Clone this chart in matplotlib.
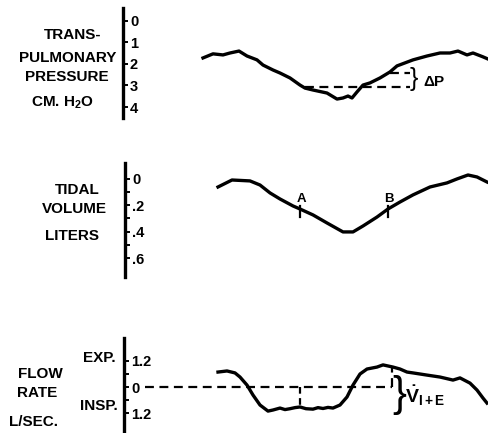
import matplotlib
matplotlib.use("Agg")
import matplotlib.pyplot as plt
import numpy as np

plt.rcParams["font.family"] = ["Liberation Sans", "DejaVu Sans"]
plt.rcParams["font.weight"] = "bold"
plt.rcParams["mathtext.fontset"] = "custom"
plt.rcParams["mathtext.rm"] = "Liberation Sans:bold"
plt.rcParams["mathtext.it"] = "Liberation Sans:bold"
plt.rcParams["mathtext.bf"] = "Liberation Sans:bold"

# transpulmonary pressure (cm H2O), time in arbitrary units
t_p = [80, 90, 100, 107, 116, 124, 134, 140, 150, 157, 167, 177, 182, 190, 204,
       214, 220, 225, 229, 234, 240, 247, 257, 267, 274, 290, 304, 317, 327, 335,
       344, 350, 360, 365]
pressure = [1.72, 1.53, 1.58, 1.49, 1.40, 1.63, 1.81, 2.05, 2.28, 2.42, 2.65, 2.98,
            3.12, 3.21, 3.35, 3.63, 3.58, 3.49, 3.58, 3.30, 2.98, 2.88, 2.65, 2.37,
            2.09, 1.81, 1.63, 1.49, 1.49, 1.40, 1.58, 1.49, 1.67, 1.77]

# tidal volume (liters)
t_v = [93, 107, 125, 135, 145, 155, 168, 175, 188, 202, 218, 228, 238, 252, 263,
       275, 288, 305, 322, 332, 343, 352, 362]
volume = [0.061, 0.008, 0.015, 0.046, 0.106, 0.152, 0.205, 0.228, 0.273, 0.334,
          0.402, 0.402, 0.357, 0.289, 0.228, 0.175, 0.121, 0.061, 0.030, 0.000,
          -0.030, -0.015, 0.023]
marks_t = [175, 263]
marks_v = [0.228, 0.228]
marks_lbl = ["A", "B"]

# flow rate (L/sec), expiration positive
t_f = [94, 103, 111, 116, 123, 129, 136, 144, 149, 156, 161, 166, 171, 176, 182,
       189, 194, 199, 204, 209, 216, 223, 229, 236, 243, 253, 259, 269, 276, 283,
       289, 303, 316, 329, 336, 346, 353, 359, 363]
flow = [0.69, 0.74, 0.65, 0.46, 0.09, -0.37, -0.83, -1.11, -1.06, -0.97, -1.04,
        -1.00, -0.95, -0.92, -1.00, -1.02, -0.95, -0.99, -0.94, -0.97, -0.83,
        -0.46, 0.09, 0.60, 0.83, 0.92, 1.02, 0.92, 0.83, 0.69, 0.65, 0.55, 0.46,
        0.32, 0.42, 0.18, -0.14, -0.51, -0.74]

W, H = 488, 433
fig = plt.figure(figsize=(W / 100, H / 100), dpi=100)

LW = 2.4
FS = 11


def scale_axes(rect, ylim, major, labels, minor=None):
    ax = fig.add_axes(rect)
    ax.set_facecolor("none")
    for s in ["top", "right", "bottom"]:
        ax.spines[s].set_visible(False)
    ax.spines["left"].set_linewidth(LW)
    ax.set_xticks([])
    ax.set_ylim(*ylim)
    ax.set_yticks(major, labels)
    if minor is not None:
        ax.set_yticks(minor, minor=True)
    ax.tick_params(axis="y", which="both", direction="in", length=3.8, width=1.4,
                   pad=-5, labelsize=10.5)
    for t in ax.get_yticklabels():
        t.set_ha("left")
        t.set_fontweight("bold")
    return ax


# panel 1: pressure
ax1 = scale_axes([123 / W, (H - 118) / H, 365 / W, 110 / H], (4.51, -0.60),
                 [0, 1, 2, 3, 4], ["0", "1", "2", "3", "4"])
ax1.set_xlim(0, 365)
ax1.plot(t_p, pressure, color="black", lw=LW, solid_joinstyle="round", clip_on=False)
ax1.plot([182, 287], [3.08, 3.08], color="black", lw=1.6, ls=(0, (4, 2.5)))
ax1.plot([267, 287], [2.40, 2.40], color="black", lw=1.6, ls=(0, (4, 2.5)))
ax1.text(287, 2.72, "}", fontsize=18, fontweight="normal", ha="left", va="center")
ax1.text(300, 2.85, "ΔP", fontsize=11, ha="left", va="center")
for x, y, s in [(-50, 0.65, "TRANS-"), (-55, 1.72, "PULMONARY"),
                (-56, 2.60, "PRESSURE"), (-61, 3.81, "CM. H$_2$O")]:
    ax1.text(x, y, s, fontsize=FS, ha="center", va="center", clip_on=False)

# panel 2: tidal volume
ax2 = scale_axes([125 / W, (H - 277) / H, 363 / W, 114 / H], (0.744, -0.121),
                 [0, 0.2, 0.4, 0.6], ["0", ".2", ".4", ".6"], minor=[0.1, 0.3, 0.5])
ax2.set_xlim(0, 363)
ax2.plot(t_v, volume, color="black", lw=LW, solid_joinstyle="round", clip_on=False)
for x, y, s in zip(marks_t, marks_v, marks_lbl):
    ax2.plot([x, x], [y - 0.02, y + 0.06], color="black", lw=1.6)
    ax2.text(x + 1, y - 0.075, s, fontsize=9.5, ha="center", va="center")
for x, y, s in [(-48, 0.084, "TIDAL"), (-51, 0.228, "VOLUME"), (-53, 0.433, "LITERS")]:
    ax2.text(x, y, s, fontsize=FS, ha="center", va="center", clip_on=False)

# panel 3: flow rate
ax3 = scale_axes([124 / W, 0, 364 / W, 95 / H], (-2.12, 2.26),
                 [1.2, 0, -1.2], ["1.2", "0", "1.2"], minor=[0.6, -0.6])
ax3.set_xlim(0, 364)
ax3.plot(t_f, flow, color="black", lw=LW, solid_joinstyle="round", clip_on=False)
ax3.plot([21, 268], [0, 0], color="black", lw=1.6, ls=(0, (4, 2.5)))
ax3.plot([268, 268], [0, 0.92], color="black", lw=1.6, ls=(0, (4, 2.5)))
ax3.plot([176, 176], [0, -0.92], color="black", lw=1.6, ls=(0, (3, 2)))
ax3.text(268, -0.35, "}", fontsize=30, fontweight="normal", ha="left", va="center")
ax3.text(281, -0.42, r"$\dot{V}_{I+E}$", fontsize=14, ha="left", va="center")
for x, y, s in [(-25, 1.34, "EXP."), (-84, 0.60, "FLOW"), (-87, -0.28, "RATE"),
                (-25, -0.88, "INSP."), (-90, -1.62, "L/SEC.")]:
    ax3.text(x, y, s, fontsize=FS, ha="center", va="center", clip_on=False)

fig.savefig("out.png", dpi=100)
